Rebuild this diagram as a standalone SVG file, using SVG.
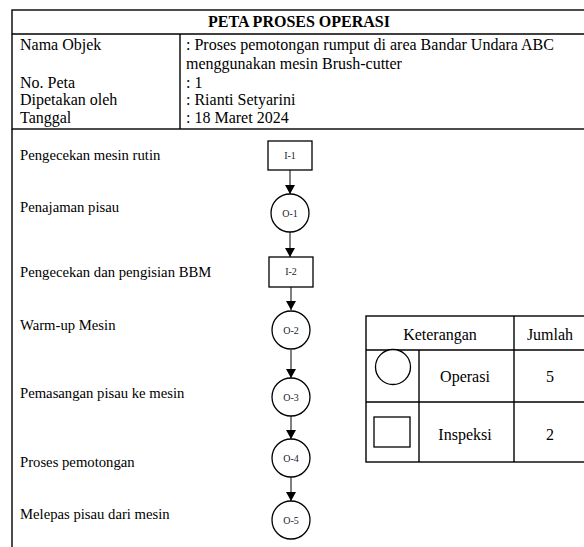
<svg xmlns="http://www.w3.org/2000/svg" width="584" height="547" viewBox="0 0 584 547">
<style>
.frame{fill:none;stroke:#000;stroke-width:1.4}
.t{font-family:"Liberation Serif","Times New Roman",serif;font-size:16px;fill:#000}
.lbl{font-family:"Liberation Serif","Times New Roman",serif;font-size:14.7px;fill:#000}
.nl{font-family:"Liberation Serif","Times New Roman",serif;font-size:10px;fill:#1a1a2a;text-anchor:middle}
.sym{fill:#fff;stroke:#000;stroke-width:1.3}
.conn{stroke:#000;stroke-width:1;fill:none;marker-end:url(#ah)}
</style>
<defs>
<marker id="ah" markerWidth="10" markerHeight="10" refX="9" refY="5" orient="auto" markerUnits="userSpaceOnUse">
<path d="M0,0 L9,5 L0,10 z" fill="#000"/>
</marker>
</defs>
<rect width="584" height="547" fill="#fff"/>
<g id="header">
<rect class="frame" x="12" y="10" width="580" height="119"/>
<line class="frame" x1="12" y1="34" x2="592" y2="34"/>
<line class="frame" x1="180" y1="34" x2="180" y2="129"/>
<line class="frame" x1="12" y1="129" x2="12" y2="550"/>
<text class="t" x="299" y="27" text-anchor="middle" font-weight="bold">PETA PROSES OPERASI</text>
<text class="t" x="20" y="50">Nama Objek</text>
<text class="t" x="186" y="50">: Proses pemotongan rumput di area Bandar Undara ABC</text>
<text class="t" x="186" y="69">menggunakan mesin Brush-cutter</text>
<text class="t" x="20" y="88">No. Peta</text>
<text class="t" x="186" y="88">: 1</text>
<text class="t" x="20" y="105">Dipetakan oleh</text>
<text class="t" x="186" y="105">: Rianti Setyarini</text>
<text class="t" x="20" y="123">Tanggal</text>
<text class="t" x="186" y="123">: 18 Maret 2024</text>
</g>
<g id="labels">
<text class="lbl" x="20" y="160">Pengecekan mesin rutin</text>
<text class="lbl" x="20" y="212">Penajaman pisau</text>
<text class="lbl" x="20" y="277">Pengecekan dan pengisian BBM</text>
<text class="lbl" x="20" y="330">Warm-up Mesin</text>
<text class="lbl" x="20" y="398">Pemasangan pisau ke mesin</text>
<text class="lbl" x="20" y="467">Proses pemotongan</text>
<text class="lbl" x="20" y="519">Melepas pisau dari mesin</text>
</g>
<g id="connectors">
<line class="conn" x1="290" y1="170" x2="290" y2="194"/>
<line class="conn" x1="290" y1="232" x2="290" y2="257"/>
<line class="conn" x1="291" y1="287" x2="291" y2="310"/>
<line class="conn" x1="291" y1="350" x2="291" y2="378"/>
<line class="conn" x1="291" y1="416" x2="291" y2="439"/>
<line class="conn" x1="291" y1="477" x2="291" y2="501"/>
</g>
<g id="I-1"><rect class="sym" x="268" y="141" width="44" height="29"/><text class="nl" x="290" y="159">I-1</text></g>
<g id="O-1"><circle class="sym" cx="290" cy="213" r="19"/><text class="nl" x="290" y="217">O-1</text></g>
<g id="I-2"><rect class="sym" x="269" y="257" width="44" height="30"/><text class="nl" x="291" y="275">I-2</text></g>
<g id="O-2"><circle class="sym" cx="291" cy="330" r="19"/><text class="nl" x="291" y="334">O-2</text></g>
<g id="O-3"><circle class="sym" cx="291" cy="397" r="19"/><text class="nl" x="291" y="401">O-3</text></g>
<g id="O-4"><circle class="sym" cx="291" cy="458" r="19"/><text class="nl" x="291" y="462">O-4</text></g>
<g id="O-5"><circle class="sym" cx="291" cy="520" r="19"/><text class="nl" x="291" y="524">O-5</text></g>
<g id="legend">
<rect class="frame" x="366" y="316" width="224" height="146"/>
<line class="frame" x1="366" y1="350" x2="590" y2="350"/>
<line class="frame" x1="366" y1="402" x2="590" y2="402"/>
<line class="frame" x1="514" y1="316" x2="514" y2="462"/>
<line class="frame" x1="419" y1="350" x2="419" y2="462"/>
<circle class="sym" cx="393" cy="367" r="17.5"/>
<rect class="sym" x="374" y="417" width="36" height="30"/>
<text class="t" x="440" y="340" text-anchor="middle">Keterangan</text>
<text class="t" x="550" y="340" text-anchor="middle">Jumlah</text>
<text class="t" x="465" y="382" text-anchor="middle">Operasi</text>
<text class="t" x="550" y="382" text-anchor="middle">5</text>
<text class="t" x="465" y="440" text-anchor="middle">Inspeksi</text>
<text class="t" x="550" y="440" text-anchor="middle">2</text>
</g>
</svg>
